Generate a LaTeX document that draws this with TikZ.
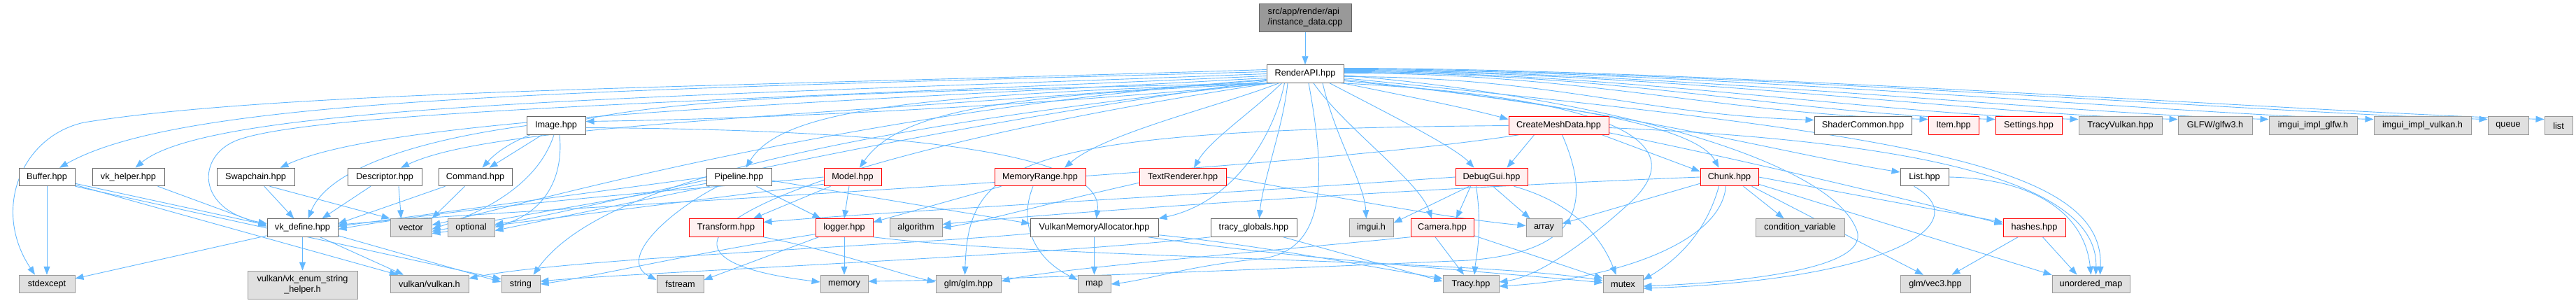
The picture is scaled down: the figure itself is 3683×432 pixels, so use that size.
\documentclass[tikz,border=0pt]{standalone}
\usepackage{fontspec}
\setmainfont{Liberation Sans}
\usetikzlibrary{arrows.meta,calc}
\pgfdeclarelayer{background}
\pgfsetlayers{background,main}
\definecolor{edgec}{HTML}{63B8FF}
\definecolor{redfill}{HTML}{FFF0F0}
\definecolor{grayfill}{HTML}{E0E0E0}
\definecolor{grayline}{HTML}{999999}
\definecolor{darkline}{HTML}{666666}
\begin{document}
\begin{tikzpicture}[x=1pt,y=-1pt,
  box/.style={font=\fontsize{12.7}{15}\selectfont, inner sep=0pt, minimum height=25.5pt, line width=1pt},
  wb/.style={box, draw=darkline, fill=white},
  gb/.style={box, draw=grayline, fill=grayfill},
  rb/.style={box, draw=red, fill=redfill},
  tb/.style={box, draw=darkline, fill=grayline},
  e/.style={draw=edgec, line width=0.9pt, -{Triangle[length=12pt,width=9pt]}}]
\useasboundingbox (0,0) rectangle (3683,432);
% row 0/1
\node[tb, minimum width=132pt, minimum height=40pt, align=left] (top) at (1866,25) {src/app/render/api\\/instance\_data.cpp};
\node[wb, minimum width=110pt] (R) at (1866,105.5) {RenderAPI.hpp};
% row 2
\node[wb, minimum width=84pt] (Image) at (795,179.5) {Image.hpp};
\node[rb, minimum width=143pt] (CMD) at (2228.5,179.5) {CreateMeshData.hpp};
\node[wb, minimum width=139pt] (Shader) at (2663.5,179.5) {ShaderCommon.hpp};
\node[rb, minimum width=72pt] (Item) at (2793,179.5) {Item.hpp};
\node[rb, minimum width=95pt] (Settings) at (2900.5,179.5) {Settings.hpp};
\node[gb, minimum width=119pt] (TracyVk) at (3031.5,179.5) {TracyVulkan.hpp};
\node[gb, minimum width=106pt] (GLFW) at (3167,179.5) {GLFW/glfw3.h};
\node[gb, minimum width=126pt] (iglfw) at (3307,179.5) {imgui\_impl\_glfw.h};
\node[gb, minimum width=139pt] (ivk) at (3463.5,179.5) {imgui\_impl\_vulkan.h};
\node[gb, minimum width=58pt] (queue) at (3586,179.5) {queue};
\node[gb, minimum width=40pt] (list) at (3658,179.5) {list};
% row 3
\node[wb, minimum width=80pt] (Buffer) at (67,253) {Buffer.hpp};
\node[wb, minimum width=103pt] (vkhelper) at (183.5,253) {vk\_helper.hpp};
\node[wb, minimum width=111pt] (Swapchain) at (365.5,253) {Swapchain.hpp};
\node[wb, minimum width=106pt] (Descriptor) at (550,253) {Descriptor.hpp};
\node[wb, minimum width=105pt] (Command) at (679.5,253) {Command.hpp};
\node[wb, minimum width=93pt] (Pipeline) at (1056.5,253) {Pipeline.hpp};
\node[rb, minimum width=82pt] (Model) at (1219,253) {Model.hpp};
\node[rb, minimum width=130pt] (MemRange) at (1487,253) {MemoryRange.hpp};
\node[rb, minimum width=124pt] (TextR) at (1691,253) {TextRenderer.hpp};
\node[rb, minimum width=103pt] (DebugGui) at (2132.5,253) {DebugGui.hpp};
\node[rb, minimum width=83pt] (Chunk) at (2472.5,253) {Chunk.hpp};
\node[wb, minimum width=69pt] (List) at (2751.5,253) {List.hpp};
% row 4
\node[wb, minimum width=101pt] (vkdef) at (432.5,325.5) {vk\_define.hpp};
\node[gb, minimum width=59pt] (vector) at (587.5,325.5) {vector};
\node[gb, minimum width=67pt] (optional) at (673.5,325.5) {optional};
\node[rb, minimum width=106pt] (Transform) at (1038,325.5) {Transform.hpp};
\node[rb, minimum width=82pt] (logger) at (1207,325.5) {logger.hpp};
\node[gb, minimum width=75pt] (algorithm) at (1309.5,325.5) {algorithm};
\node[wb, minimum width=183pt] (VMA) at (1564.5,325.5) {VulkanMemoryAllocator.hpp};
\node[wb, minimum width=123pt] (tglob) at (1792.5,325.5) {tracy\_globals.hpp};
\node[gb, minimum width=63pt] (imgui) at (1960.5,325.5) {imgui.h};
\node[rb, minimum width=90pt] (Camera) at (2062,325.5) {Camera.hpp};
\node[gb, minimum width=51pt] (array) at (2207.5,325.5) {array};
\node[gb, minimum width=127pt] (condvar) at (2573.5,325.5) {condition\_variable};
\node[rb, minimum width=89pt] (hashes) at (2908.5,325.5) {hashes.hpp};
% row 5
\node[gb, minimum width=80pt] (stdexcept) at (67,406) {stdexcept};
\node[gb, minimum width=157pt, minimum height=40pt, align=center] (vkenum) at (432.5,407) {vulkan/vk\_enum\_string\\\_helper.h};
\node[gb, minimum width=112pt] (vulkanh) at (614,406) {vulkan/vulkan.h};
\node[gb, minimum width=55pt] (string) at (744.5,406) {string};
\node[gb, minimum width=67pt] (fstream) at (972.5,406) {fstream};
\node[gb, minimum width=68pt] (memory) at (1207,406) {memory};
\node[gb, minimum width=93pt] (glm) at (1384.5,406) {glm/glm.hpp};
\node[gb, minimum width=47pt] (map) at (1564.5,406) {map};
\node[gb, minimum width=80pt] (Tracy) at (2103,406) {Tracy.hpp};
\node[gb, minimum width=57pt] (mutex) at (2320.5,406) {mutex};
\node[gb, minimum width=100pt] (vec3) at (2767,406) {glm/vec3.hpp};
\node[gb, minimum width=111pt] (umap) at (2989.5,406) {unordered\_map};

\begin{pgfonlayer}{background}
\draw[e] (top) -- (R);
% R to the right, row 2
\draw[e] ($(R.east)+(0,4)$) .. controls +(300,0) and +(-250,-8) .. ($(Shader.west)+(0,-8)$);
\draw[e] ($(R.east)+(0,-1)$) .. controls +(350,0) and +(-300,-8) .. ($(Item.west)+(0,-9)$);
\draw[e] ($(R.east)+(0,-2)$) .. controls +(400,0) and +(-300,-8) .. ($(Settings.west)+(0,-9)$);
\draw[e] ($(R.east)+(0,-3)$) .. controls +(400,0) and +(-300,-8) .. ($(TracyVk.west)+(0,-9)$);
\draw[e] ($(R.east)+(0,-4)$) .. controls +(450,0) and +(-300,-8) .. ($(GLFW.west)+(0,-9)$);
\draw[e] ($(R.east)+(0,-5)$) .. controls +(450,0) and +(-300,-8) .. ($(iglfw.west)+(0,-9)$);
\draw[e] ($(R.east)+(0,-6)$) .. controls +(500,0) and +(-300,-8) .. ($(ivk.west)+(0,-9)$);
\draw[e] ($(R.east)+(0,-7)$) .. controls +(500,0) and +(-300,-8) .. ($(queue.west)+(0,-9)$);
\draw[e] ($(R.east)+(0,-8)$) .. controls +(500,0) and +(-300,-8) .. ($(list.west)+(0,-9)$);
% R to the left
\draw[e] ($(R.west)+(0,-6)$) .. controls (1000,125) and (400,130) .. (120,175) .. controls (30,195) and (-12,300) .. ($(stdexcept.north)+(-17,0)$);
\draw[e] ($(R.west)+(0,-3)$) .. controls (800,130) and (260,140) .. ($(Buffer.north)+(18,0)$);
\draw[e] (R.west) .. controls (900,140) and (300,150) .. ($(vkhelper.north)+(10,0)$);
\draw[e] ($(R.west)+(0,3)$) .. controls (1000,145) and (450,160) .. (340,200) .. controls (280,222) and (280,300) .. ($(vkdef.west)+(0,-6)$);
\draw[e] ($(R.west)+(0,6)$) .. controls (1100,150) and (550,170) .. ($(Swapchain.north)+(35,0)$);
\draw[e] ($(R.west)+(0,9)$) .. controls (1100,170) and (700,180) .. ($(Descriptor.north)+(23,0)$);
\draw[e] (R.south west) .. controls (1100,135) and (780,140) .. ($(Command.north)+(10,0)$);
\draw[e] ($(R.south west)+(5,0)$) .. controls (1500,150) and (1100,170) .. ($(Image.east)+(0,-6)$);
\draw[e] ($(R.south west)+(10,0)$) .. controls (1350,135) and (1120,150) .. ($(Pipeline.north)+(10,0)$);
\draw[e] ($(R.south west)+(14,0)$) .. controls (1480,135) and (1290,150) .. ($(Model.north)+(10,0)$);
\draw[e] ($(R.south west)+(18,0)$) .. controls (1750,150) and (1580,190) .. ($(MemRange.north)+(35,0)$);
\draw[e] ($(R.south west)+(22,0)$) .. controls (1790,160) and (1730,200) .. ($(TextR.north)+(16,0)$);
\draw[e] ($(R.west)+(0,8)$) .. controls (1200,160) and (760,290) .. ($(vector.east)+(0,-4)$);
\draw[e] ($(R.west)+(0,10)$) .. controls (1200,200) and (820,305) .. ($(optional.east)+(0,-5)$);
\draw[e] ($(R.south west)+(3,0)$) .. controls (1150,190) and (850,270) .. ($(string.north)+(18,0)$);
\draw[e] ($(R.south west)+(7,0)$) .. controls (1150,220) and (820,360) .. ($(memory.west)+(0,-3)$);
\draw[e] ($(R.south west)+(26,0)$) .. controls (1820,200) and (1760,290) .. (VMA.north east);
\draw[e] ($(R.south)+(-25,0)$) .. controls (1835,180) and (1805,260) .. ($(tglob.north)+(8,0)$);
\draw[e] ($(R.south)+(25,0)$) .. controls (1910,200) and (1950,260) .. ($(imgui.north)+(-7,0)$);
\draw[e] ($(R.south)+(12,0)$) .. controls (1920,180) and (2030,260) .. ($(Camera.north)+(-15,0)$);
\draw[e] ($(R.south)+(35,0)$) .. controls (1980,160) and (2080,210) .. ($(DebugGui.north)+(-25,0)$);
\draw[e] ($(R.south east)+(-2,0)$) .. controls (2000,135) and (2100,155) .. ($(CMD.west)+(0,-9)$);
\draw[e] ($(R.east)+(0,8)$) .. controls (2150,140) and (2420,170) .. ($(Chunk.north)+(-15,0)$);
\draw[e] ($(R.east)+(0,10)$) .. controls (2300,150) and (2550,220) .. ($(List.west)+(0,-7)$);
\draw[e] ($(R.south)+(5,0)$) .. controls (1895,250) and (1900,360) .. (1800,370) .. controls (1700,380) and (1640,400) .. (map.east);
\draw[e] ($(R.south east)+(-5,0)$) .. controls (2250,135) and (2440,190) .. (2330,290) .. controls (2270,345) and (2200,395) .. ($(Tracy.east)+(0,-3)$);
\draw[e] ($(R.east)+(0,2)$) .. controls (2300,140) and (2620,230) .. (2655,330) .. controls (2675,390) and (2450,405) .. ($(mutex.east)+(0,3)$);
\draw[e] ($(R.east)+(0,6)$) .. controls (2700,190) and (3010,230) .. ($(umap.north)+(13,0)$);
% Buffer, vk_helper
\draw[e] (Buffer) -- (stdexcept);
\draw[e] ($(Buffer.south east)+(0,-4)$) -- ($(vkdef.west)+(0,-4)$);
\draw[e] ($(Buffer.south east)+(0,-2)$) -- ($(vulkanh.north)+(-45,0)$);
\draw[e] (Buffer.south east) -- ($(string.west)+(0,-7)$);
\draw[e] ($(vkhelper.south east)+(-10,0)$) -- ($(vkdef.west)+(0,-2)$);
% Swapchain, Descriptor, Command
\draw[e] (Swapchain) -- (vkdef);
\draw[e] ($(Swapchain.south)+(20,0)$) -- (vector.north west);
\draw[e] ($(Descriptor.south)+(-20,0)$) -- ($(vkdef.north)+(28,0)$);
\draw[e] ($(Descriptor.south)+(20,0)$) -- ($(vector.north)+(-14,0)$);
\draw[e] ($(Command.south west)+(10,0)$) -- ($(vkdef.east)+(0,-6)$);
\draw[e] ($(Command.south)+(-15,0)$) -- (vector.north east);
% Image
\draw[e] ($(Image.south)+(-20,0)$) -- ($(Command.north)+(20,0)$);
\draw[e] (Image.west) .. controls (600,200) and (470,240) .. ($(vkdef.north)+(8,0)$);
\draw[e] ($(Image.south)+(-3,0)$) .. controls (770,260) and (700,300) .. ($(vector.east)+(0,2)$);
\draw[e] ($(Image.south)+(5,0)$) .. controls (805,240) and (790,300) .. ($(optional.east)+(0,-1)$);
\draw[e] ($(Image.east)+(0,3)$) .. controls (1300,185) and (1580,220) .. ($(VMA.north)+(3,0)$);
% vk_define
\draw[e] ($(vkdef.south west)+(0,-2)$) -- ($(stdexcept.east)+(0,-8)$);
\draw[e] (vkdef) -- (vkenum);
\draw[e] ($(vkdef.south)+(25,0)$) -- ($(vulkanh.north)+(-37,0)$);
\draw[e] ($(vkdef.south east)+(0,-2)$) -- ($(string.west)+(0,-3)$);
% Pipeline
\draw[e] (Pipeline.west) -- ($(vkdef.east)+(0,-2)$);
\draw[e] ($(Pipeline.south west)+(0,-4)$) -- ($(vector.east)+(0,5)$);
\draw[e] ($(Pipeline.south west)+(5,0)$) -- ($(optional.east)+(0,4)$);
\draw[e] ($(Pipeline.south)+(25,0)$) -- ($(logger.north west)+(8,0)$);
\draw[e] ($(Pipeline.south)+(-30,0)$) .. controls (960,300) and (880,370) .. ($(fstream.west)+(0,-6)$);
\draw[e] ($(Pipeline.east)+(0,5)$) -- ($(VMA.west)+(0,-6)$);
% Model
\draw[e] ($(Model.south west)+(10,0)$) -- ($(Transform.north)+(39,0)$);
\draw[e] ($(Model.south)+(-5,0)$) -- (logger.north);
\draw[e] (Model.west) .. controls (1000,270) and (700,290) .. ($(vkdef.east)+(0,2)$);
\draw[e] ($(Model.south west)+(0,-3)$) -- ($(vector.east)+(0,8)$);
% Transform, logger
\draw[e] (Transform.south east) .. controls (1200,360) and (1280,390) .. ($(glm.west)+(0,-3)$);
\draw[e] ($(logger.south west)+(5,0)$) -- ($(fstream.east)+(0,-6)$);
\draw[e] (logger) -- (memory);
\draw[e] ($(logger.south west)+(0,-4)$) .. controls (1000,360) and (850,395) .. (string.east);
\draw[e] (logger.south east) .. controls (1500,370) and (2100,370) .. ($(mutex.west)+(0,-5)$);
% MemoryRange, TextRenderer
\draw[e] ($(MemRange.south west)+(10,0)$) -- ($(logger.east)+(0,-8)$);
\draw[e] ($(MemRange.south)+(-10,0)$) .. controls (1455,320) and (1480,370) .. ($(map.west)+(0,-6)$);
\draw[e] ($(TextR.south west)+(0,-5)$) .. controls (1500,290) and (1400,318) .. (algorithm.east);
\draw[e] (TextR.east) .. controls (1850,270) and (2050,310) .. ($(array.west)+(0,-3)$);
% VMA, tracy_globals
\draw[e] (VMA) -- (map);
\draw[e] ($(VMA.south west)+(0,-5)$) .. controls (1300,350) and (800,370) .. ($(vulkanh.east)+(0,-8)$);
\draw[e] ($(VMA.south east)+(0,-3)$) .. controls (1800,350) and (1950,380) .. ($(Tracy.west)+(0,-8)$);
\draw[e] ($(VMA.south east)+(-15,0)$) .. controls (1850,370) and (2150,390) .. ($(mutex.west)+(0,-2)$);
\draw[e] ($(tglob.south east)+(-20,0)$) -- ($(Tracy.west)+(0,-4)$);
\draw[e] (tglob.south west) .. controls (1500,365) and (900,390) .. ($(string.east)+(0,-4)$);
% Camera, DebugGui
\draw[e] ($(Camera.south)+(-10,0)$) -- ($(Tracy.north)+(-10,0)$);
\draw[e] ($(Camera.south east)+(0,-2)$) -- ($(mutex.west)+(0,-8)$);
\draw[e] (Camera.south west) .. controls (1800,360) and (1500,385) .. ($(glm.east)+(0,-4)$);
\draw[e] ($(DebugGui.south west)+(20,0)$) -- ($(imgui.east)+(0,-7)$);
\draw[e] ($(DebugGui.south)+(-30,0)$) -- ($(Camera.north)+(20,0)$);
\draw[e] ($(DebugGui.south)+(2,0)$) -- ($(array.north)+(-20,0)$);
\draw[e] ($(DebugGui.south)+(-22,0)$) .. controls (2120,330) and (2110,370) .. ($(Tracy.north)+(5,0)$);
\draw[e] ($(DebugGui.south east)+(-20,0)$) .. controls (2250,290) and (2290,340) .. ($(mutex.north)+(-10,0)$);
\draw[e] (DebugGui.west) .. controls (1700,280) and (1300,300) .. ($(Transform.east)+(0,-8)$);
% Chunk
\draw[e] ($(Chunk.south)+(20,0)$) -- ($(condvar.north)+(-23,0)$);
\draw[e] (Chunk.east) -- ($(hashes.west)+(0,-8)$);
\draw[e] ($(Chunk.south east)+(-10,0)$) -- ($(vec3.north)+(-17,0)$);
\draw[e] ($(Chunk.south east)+(0,-3)$) -- (umap.north west);
\draw[e] ($(Chunk.south)+(-15,0)$) .. controls (2440,330) and (2400,370) .. ($(mutex.east)+(0,-6)$);
\draw[e] ($(Chunk.south)+(-5,0)$) .. controls (2460,350) and (2300,400) .. ($(Tracy.east)+(0,3)$);
\draw[e] ($(Chunk.south west)+(0,-4)$) -- ($(array.east)+(0,-6)$);
\draw[e] (Chunk.west) .. controls (2000,270) and (1500,305) .. ($(algorithm.east)+(0,-5)$);
% hashes, List
\draw[e] (hashes) -- (vec3);
\draw[e] ($(hashes.south)+(12,0)$) -- ($(umap.north)+(-20,0)$);
\draw[e] (List.east) .. controls (2900,255) and (2980,300) .. (umap.north);
\draw[e] ($(List.south)+(-15,0)$) .. controls (2830,320) and (2700,400) .. ($(mutex.east)+(0,6)$);
% CreateMeshData
\draw[e] ($(CMD.south)+(-35,0)$) -- ($(DebugGui.north)+(22,0)$);
\draw[e] ($(CMD.south east)+(-10,0)$) -- ($(Chunk.west)+(0,-8)$);
\draw[e] ($(CMD.south east)+(0,-3)$) .. controls (2500,230) and (2750,290) .. ($(hashes.west)+(0,-5)$);
\draw[e] (CMD.west) .. controls (1450,185) and (1385,230) .. ($(glm.north)+(-5,0)$);
\draw[e] ($(CMD.south west)+(15,0)$) .. controls (1800,250) and (700,300) .. ($(vkdef.east)+(0,-4)$);
\draw[e] ($(CMD.south)+(5,0)$) .. controls (2280,300) and (2250,360) .. (2100,372) .. controls (1700,390) and (1400,400) .. ($(memory.east)+(0,-4)$);
\draw[e] ($(CMD.east)+(0,3)$) .. controls (2700,200) and (3000,250) .. ($(umap.north)+(7,0)$);
\end{pgfonlayer}
\end{tikzpicture}
\end{document}
